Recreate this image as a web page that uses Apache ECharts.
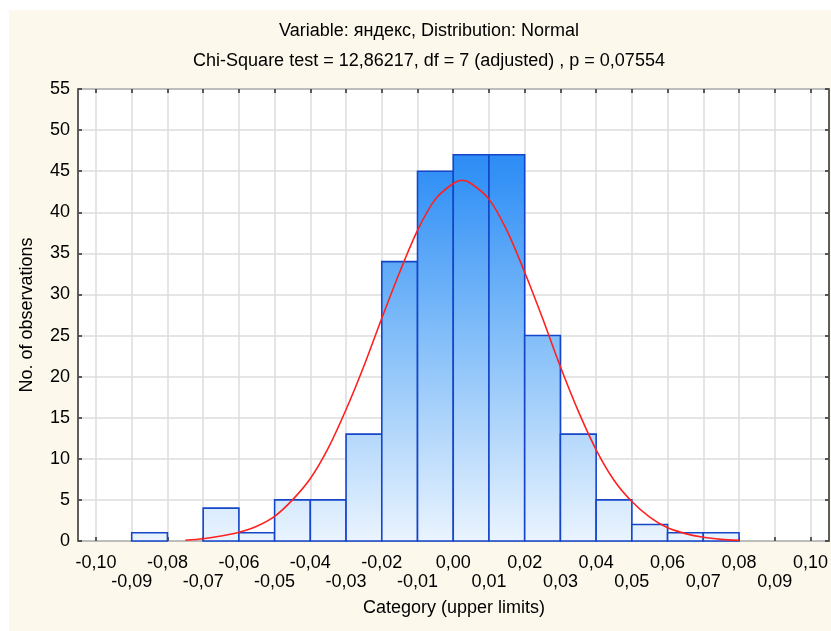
<!DOCTYPE html>
<html>
<head>
<meta charset="utf-8">
<script src="https://cdn.jsdelivr.net/npm/echarts@6/dist/echarts.min.js"></script>
<style>
  html, body { margin: 0; padding: 0; background: #ffffff; }
  #panel { position: absolute; left: 9px; top: 10px; width: 822px; height: 621px; background: #fdf8ec; }
  #chart { position: absolute; left: 0; top: 0; width: 831px; height: 631px; }
</style>
</head>
<body>
<div id="panel"></div>
<div id="chart"></div>
<script>
// Histogram bins: upper limit of each class and its observed count
const binUpperLimits = [-0.08, -0.07, -0.06, -0.05, -0.04, -0.03, -0.02, -0.01, 0.00,
                        0.01, 0.02, 0.03, 0.04, 0.05, 0.06, 0.07, 0.08];
const binCounts = [1, 0, 4, 1, 5, 5, 13, 34, 45, 47, 47, 25, 13, 5, 2, 1, 1];
const binWidth = 0.01;

// Fitted normal curve (expected counts)
const curveX = [-0.075, -0.07, -0.065, -0.06, -0.055, -0.05, -0.045, -0.04, -0.035, -0.03,
                -0.025, -0.02, -0.015, -0.01, -0.005, 0.0, 0.0025, 0.005, 0.01, 0.015,
                0.02, 0.025, 0.03, 0.035, 0.04, 0.045, 0.05, 0.055, 0.06, 0.065,
                0.07, 0.075, 0.08];
const curveY = [0.1, 0.27, 0.6, 1.07, 1.8, 3.0, 5.0, 7.6, 11.3, 16.0,
                21.3, 27.1, 32.7, 37.8, 41.6, 43.5, 43.9, 43.5, 41.6, 37.8,
                32.7, 27.1, 21.2, 15.8, 11.1, 7.4, 4.8, 2.9, 1.6, 0.9,
                0.45, 0.2, 0.08];

// Axis ranges
const xTickMin = -0.10, xTickMax = 0.10, xTickStep = 0.01;
const yTickMin = 0, yTickMax = 55, yTickStep = 5;

const titleLines = ['Variable: яндекс, Distribution: Normal',
                    'Chi-Square test = 12,86217, df = 7 (adjusted) , p = 0,07554'];
const xTitle = 'Category (upper limits)';
const yTitle = 'No. of observations';

const FONT = '"Liberation Sans", Arial, sans-serif';
const FRAME = '#2b2b2b';
const GRIDLINE = '#dcdcdc';

function fmtComma(v) {
  let r = Math.round(v * 100) / 100;
  if (Math.abs(r) < 1e-9) r = 0;
  return r.toFixed(2).replace('.', ',');
}
// Tick labels alternate between two rows: even steps on the first row, odd on the second
function rowLabel(row) {
  return function (v) {
    const k = Math.abs(Math.round(v / xTickStep));
    return (k % 2 === row) ? fmtComma(v) : '';
  };
}

const chart = echarts.init(document.getElementById('chart'), null, { renderer: 'canvas' });

const tickStyle = { inside: true, length: 4, lineStyle: { color: FRAME, width: 1.5 } };
const labelFont = { fontSize: 18, fontFamily: FONT, color: '#000', lineHeight: 19 };

const option = {
  animation: false,
  backgroundColor: 'transparent',
  grid: [
    { left: 78, right: 2, top: 89, bottom: 90, show: true, backgroundColor: '#ffffff',
      borderColor: FRAME, borderWidth: 1.5 },
    { left: 96, right: 20, top: 89, bottom: 90 }
  ],
  xAxis: [
    { gridIndex: 0, type: 'value', min: -0.105, max: 0.105, show: false },
    { gridIndex: 1, type: 'value', min: xTickMin, max: xTickMax, interval: xTickStep,
      position: 'bottom',
      axisLine: { show: false, onZero: false },
      axisTick: tickStyle,
      splitLine: { show: true, lineStyle: { color: GRIDLINE, width: 1.5 } },
      axisLabel: Object.assign({ interval: 0, margin: 13, formatter: rowLabel(0) }, labelFont)
    },
    { gridIndex: 1, type: 'value', min: xTickMin, max: xTickMax, interval: xTickStep,
      position: 'top',
      axisLine: { show: false, onZero: false }, axisTick: tickStyle,
      axisLabel: { show: false }, splitLine: { show: false } },
    { gridIndex: 1, type: 'value', min: xTickMin, max: xTickMax, interval: xTickStep,
      position: 'bottom',
      axisLine: { show: false, onZero: false }, axisTick: { show: false },
      splitLine: { show: false },
      axisLabel: Object.assign({ interval: 0, margin: 32, formatter: rowLabel(1) }, labelFont)
    }
  ],
  yAxis: [
    { gridIndex: 0, type: 'value', min: yTickMin, max: yTickMax, interval: yTickStep,
      position: 'left',
      axisLine: { show: false, onZero: false }, axisTick: tickStyle,
      splitLine: { show: true, lineStyle: { color: GRIDLINE, width: 1.5 } },
      axisLabel: { margin: 8, fontSize: 18, fontFamily: FONT, color: '#000' } },
    { gridIndex: 0, type: 'value', min: yTickMin, max: yTickMax, interval: yTickStep,
      position: 'right',
      axisLine: { show: false, onZero: false }, axisTick: tickStyle,
      axisLabel: { show: false }, splitLine: { show: false } },
    { gridIndex: 1, type: 'value', min: yTickMin, max: yTickMax, show: false,
      axisLine: { onZero: false } }
  ],
  graphic: [
    { type: 'text', x: 429, y: 31,
      style: { text: titleLines[0], font: '18px ' + FONT, fill: '#000', align: 'center', verticalAlign: 'middle' } },
    { type: 'text', x: 429, y: 61,
      style: { text: titleLines[1], font: '18px ' + FONT, fill: '#000', align: 'center', verticalAlign: 'middle' } },
    { type: 'text', x: 27, y: 315, rotation: Math.PI / 2,
      style: { text: yTitle, font: '18px ' + FONT, fill: '#000', align: 'center', verticalAlign: 'middle' } },
    { type: 'text', x: 454, y: 608,
      style: { text: xTitle, font: '18px ' + FONT, fill: '#000', align: 'center', verticalAlign: 'middle' } }
  ],
  series: [
    {
      type: 'custom',
      xAxisIndex: 1, yAxisIndex: 2,
      encode: { x: 0, y: 1 },
      data: binUpperLimits.map((u, i) => [u, binCounts[i]]),
      renderItem: function (params, api) {
        const hi = api.value(0);
        const cnt = api.value(1);
        if (!cnt) return null;
        const p0 = api.coord([hi - binWidth, 0]);
        const p1 = api.coord([hi, cnt]);
        const yTop = api.coord([0, yTickMax])[1];
        const yBot = api.coord([0, yTickMin])[1];
        const fill = new echarts.graphic.LinearGradient(0, yTop, 0, yBot, [
          { offset: 0, color: '#1a80f4' },
          { offset: 0.2, color: '#3592f6' },
          { offset: 0.55, color: '#83bef9' },
          { offset: 1, color: '#eaf4fe' }
        ], true);
        return {
          type: 'rect',
          shape: { x: p0[0], y: p1[1], width: p1[0] - p0[0], height: p0[1] - p1[1] },
          style: { fill: fill, stroke: '#1546c9', lineWidth: 1.6 }
        };
      },
      z: 3
    },
    {
      type: 'line',
      xAxisIndex: 1, yAxisIndex: 2,
      data: curveX.map((x, i) => [x, curveY[i]]),
      smooth: 0.3,
      symbol: 'none',
      lineStyle: { color: '#ff2020', width: 1.6 },
      z: 4
    }
  ]
};

chart.setOption(option);
</script>
</body>
</html>
